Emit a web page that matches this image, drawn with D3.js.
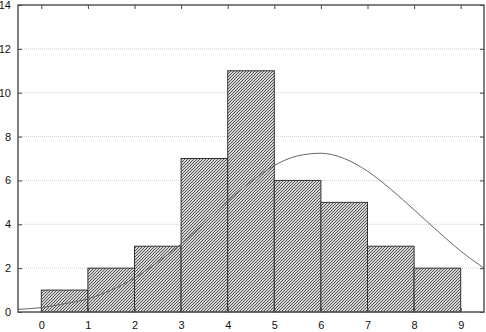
<!DOCTYPE html>
<html>
<head>
<meta charset="utf-8">
<script src="https://cdn.jsdelivr.net/npm/d3@7"></script>
<style>
  body { margin: 0; background: #fff; }
  text { font-family: "Liberation Sans", Arial, sans-serif; font-size: 11px; fill: #111; }
</style>
</head>
<body>
<div id="chart"></div>
<script>
// histogram bins (lower edge) and counts
let binStarts = [0, 1, 2, 3, 4, 5, 6, 7, 8];
let counts = [1, 2, 3, 7, 11, 6, 5, 3, 2];

// fitted normal curve
let curveX = [-0.5, 0, 0.5, 1, 1.5, 2, 2.5, 3, 3.5, 4, 4.5, 5, 5.5, 6, 6.5, 7, 7.5, 8, 8.5, 9, 9.5];
let curveY = [0.12, 0.2, 0.38, 0.6, 1.0, 1.55, 2.28, 3.1, 4.05, 5.05, 5.95, 6.68, 7.12, 7.24, 7.0, 6.42, 5.6, 4.66, 3.7, 2.78, 2.0];

let xTicks = [0, 1, 2, 3, 4, 5, 6, 7, 8, 9];
let yTicks = [0, 2, 4, 6, 8, 10, 12, 14];

let margin = {top: 5, left: 18, right: 2, bottom: 20};
let totalW = 486, totalH = 332;
let width = totalW - margin.left - margin.right;
let height = totalH - margin.top - margin.bottom;

let svg = d3.select("#chart").append("svg")
    .attr("width", totalW)
    .attr("height", totalH)
    .append("g")
    .attr("transform", `translate(${margin.left},${margin.top})`);

// fine pixel hatch for bars
let pat = svg.append("defs").append("pattern")
    .attr("id", "hatch")
    .attr("patternUnits", "userSpaceOnUse")
    .attr("width", 3).attr("height", 3);
pat.append("rect").attr("width", 3).attr("height", 3).attr("fill", "#d2d2d2");
[[0, 2], [1, 1], [2, 0]].forEach(p => {
    pat.append("rect")
        .attr("x", p[0]).attr("y", p[1])
        .attr("width", 1).attr("height", 1)
        .attr("fill", "#5a5a5a");
});

let x = d3.scaleLinear().domain([-0.5, 9.5]).range([0, width]);
let y = d3.scaleLinear().domain([0, 14]).range([height, 0]);

// horizontal grid
svg.append("g").selectAll("line")
    .data(yTicks.filter(d => d > 0 && d < 14))
    .enter().append("line")
    .attr("x1", 0).attr("x2", width)
    .attr("y1", d => y(d)).attr("y2", d => y(d))
    .attr("stroke", "#d0d0d0")
    .attr("stroke-dasharray", "1,1");

// bars
svg.append("g").selectAll("rect")
    .data(binStarts)
    .enter().append("rect")
    .attr("x", d => x(d))
    .attr("width", d => x(d + 1) - x(d))
    .attr("y", (d, i) => y(counts[i]))
    .attr("height", (d, i) => y(0) - y(counts[i]))
    .attr("fill", "url(#hatch)")
    .attr("stroke", "#333")
    .attr("stroke-width", 1);

// normal curve
let line = d3.line()
    .curve(d3.curveMonotoneX)
    .x((d, i) => x(curveX[i]))
    .y(d => y(d));
svg.append("path")
    .datum(curveY)
    .attr("d", line)
    .attr("fill", "none")
    .attr("stroke", "#666")
    .attr("stroke-width", 1);

// axes with inward ticks
let axisStyle = g => {
    g.select(".domain").remove();
    g.selectAll(".tick line").attr("stroke", "#444");
};
svg.append("g")
    .attr("transform", `translate(0,${height})`)
    .call(d3.axisBottom(x).tickValues(xTicks).tickSizeInner(-4).tickSizeOuter(0).tickPadding(9))
    .call(axisStyle);
svg.append("g")
    .call(d3.axisLeft(y).tickValues(yTicks).tickSizeInner(-4).tickSizeOuter(0).tickPadding(7))
    .call(axisStyle);
svg.append("g")
    .call(d3.axisTop(x).tickValues(xTicks).tickSizeInner(-4).tickSizeOuter(0).tickFormat(""))
    .call(axisStyle);
svg.append("g")
    .attr("transform", `translate(${width},0)`)
    .call(d3.axisRight(y).tickValues(yTicks).tickSizeInner(-4).tickSizeOuter(0).tickFormat(""))
    .call(axisStyle);

// frame
svg.append("rect")
    .attr("width", width).attr("height", height)
    .attr("fill", "none")
    .attr("stroke", "#555")
    .attr("stroke-width", 1.5);
</script>
</body>
</html>
